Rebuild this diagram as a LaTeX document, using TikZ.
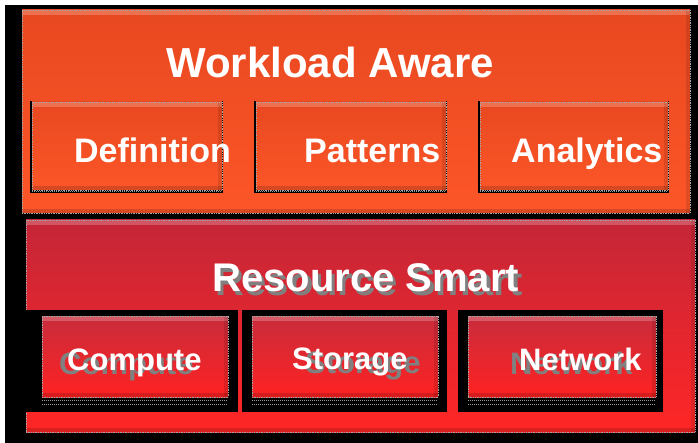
\documentclass[tikz,border=0pt]{standalone}
\usepackage{fontspec}
\setmainfont{Liberation Sans}
\definecolor{oTop}{RGB}{232,72,32}
\definecolor{oBot}{RGB}{252,86,40}
\definecolor{rTop}{RGB}{196,38,56}
\definecolor{rBot}{RGB}{255,38,38}
\definecolor{sTop}{RGB}{200,44,60}
\definecolor{sBot}{RGB}{255,34,34}
\definecolor{shade}{RGB}{128,128,128}
\begin{document}
\begin{tikzpicture}[x=1pt,y=-1pt,
  box/.style={rectangle, inner sep=0pt, outer sep=0pt, draw=gray!70, densely dotted, line width=0.7pt,
    path picture={
      \fill[white,opacity=.22] (path picture bounding box.north west) rectangle ([yshift=-5pt]path picture bounding box.north east);
      \fill[black,opacity=.15] ([yshift=4pt]path picture bounding box.south west) rectangle (path picture bounding box.south east);
      \fill[black,opacity=.10] ([xshift=-4pt]path picture bounding box.north east) rectangle (path picture bounding box.south east);}},
  obox/.style={box, top color=oTop, bottom color=oBot},
  rbox/.style={box, top color=rTop, bottom color=rBot},
  sbox/.style={box, top color=sTop, bottom color=sBot},
  blk/.style={rectangle, fill=black, inner sep=0pt, outer sep=0pt},
  txt/.style={text=white, font=\bfseries\fontsize{#1}{#1}\selectfont, inner sep=0pt, anchor=base west},
  gtxt/.style={text=shade, font=\bfseries\fontsize{#1}{#1}\selectfont, inner sep=0pt, anchor=base west},
  strip/.style={gray!80, densely dotted, line width=1pt}
]
\useasboundingbox (0,0) rectangle (698,443);
\fill[white] (0,0) rectangle (698,443);
\fill[black] (5,5) rectangle (698,443);

% top layer
\node[obox, minimum width=668pt, minimum height=203pt] (wa) at (356,111.5) {};
\node[txt=42] (watxt) at (166,78) {Workload Aware};

\node[blk, minimum width=193pt, minimum height=92pt] (defbg) at (126.5,147) {};
\node[obox, minimum width=190pt, minimum height=88pt] (def) at (127,146) {};
\node[blk, minimum width=193pt, minimum height=92pt] (patbg) at (350.5,147) {};
\node[obox, minimum width=190pt, minimum height=88pt] (pat) at (351,146) {};
\node[blk, minimum width=191pt, minimum height=92pt] (anabg) at (573.5,147) {};
\node[obox, minimum width=188pt, minimum height=88pt] (ana) at (574,146) {};
\draw[strip] (def.south west) ++(0,1.5) -- ++(190,0);
\draw[strip] (pat.south west) ++(0,1.5) -- ++(190,0);
\draw[strip] (ana.south west) ++(0,1.5) -- ++(188,0);

\node[txt=34] (deftxt) at (74,163) {Definition};
\node[txt=34] (pattxt) at (304,163) {Patterns};
\node[txt=34] (anatxt) at (511,163) {Analytics};

% bottom layer
\node[rbox, minimum width=669pt, minimum height=212pt] (rs) at (360.5,326) {};
\node[gtxt=40] (rsshadow) at (215.5,295.5) {Resource Smart};
\node[txt=40] (rstxt) at (212,292) {Resource Smart};

\node[blk, minimum width=212pt, minimum height=102pt] (cbg) at (132,361) {};
\node[blk, minimum width=205pt, minimum height=102pt] (sbg) at (344.5,361) {};
\node[blk, minimum width=205pt, minimum height=102pt] (nbg) at (560.5,361) {};

\node[sbox, minimum width=186pt, minimum height=81pt] (comp) at (135,356.5) {};
\node[sbox, minimum width=186pt, minimum height=81pt] (stor) at (345,356.5) {};
\node[sbox, minimum width=188pt, minimum height=81pt] (net) at (562,356.5) {};
\foreach \b/\w in {comp/186, stor/186, net/188}{
  \draw[strip] (\b.south west) ++(0,3) -- ++(\w,0);
  \draw[strip] (\b.south west) ++(0,7) -- ++(\w,0);
}

\node[gtxt=31] (compsh) at (59,374) {Compute};
\node[txt=31] (comptxt) at (67,370) {Compute};
\node[gtxt=31] (storsh) at (305,373) {Storage};
\node[txt=31] (stortxt) at (292,369) {Storage};
\node[gtxt=31] (netsh) at (510,374) {Network};
\node[txt=31] (nettxt) at (519,370) {Network};
\end{tikzpicture}
\end{document}
